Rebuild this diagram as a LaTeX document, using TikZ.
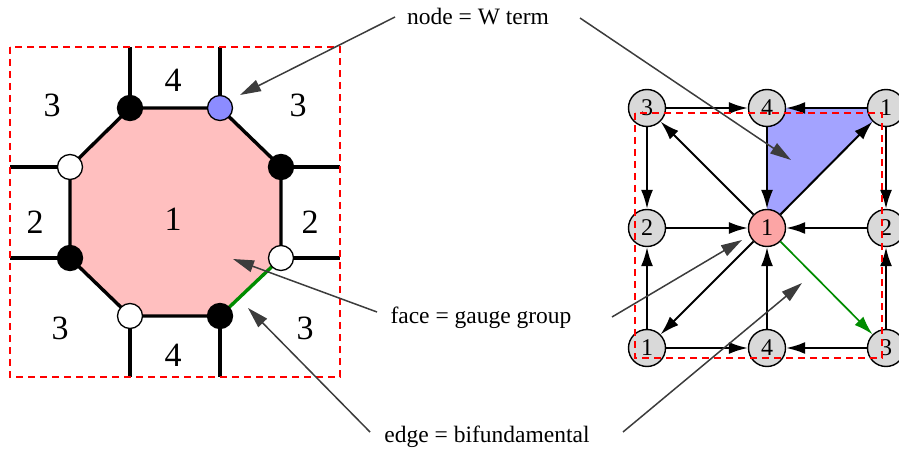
\documentclass[tikz,border=0pt]{standalone}
\usepackage{fontspec}
\setmainfont{Liberation Serif}
\usetikzlibrary{arrows.meta}
\definecolor{octpink}{HTML}{FFBFBF}
\definecolor{nodepink}{HTML}{FCA5A5}
\definecolor{wblue}{HTML}{8C8CFF}
\definecolor{triblue}{HTML}{A3A3FF}
\definecolor{qgray}{HTML}{D9D9D9}
\definecolor{anngray}{HTML}{3C3C3C}
\definecolor{edgegreen}{HTML}{008C00}
\tikzset{
  vblack/.style={circle,draw=black,fill=black,line width=1.3pt,minimum size=25pt,inner sep=0pt},
  vwhite/.style={circle,draw=black,fill=white,line width=1.3pt,minimum size=25pt,inner sep=0pt},
  vblue/.style={circle,draw=black,fill=wblue,line width=1.3pt,minimum size=25pt,inner sep=0pt},
  bigdigit/.style={font=\fontsize{34}{34}\selectfont,inner sep=0pt},
  quiv/.style={circle,draw=black,fill=qgray,line width=1.4pt,minimum size=37pt,inner sep=0pt,font=\fontsize{24}{24}\selectfont},
  quivc/.style={quiv,fill=nodepink},
  dimer/.style={line width=3.4pt,black},
  arr/.style={line width=2pt,black,-{Latex[length=19pt,width=12pt]}},
  garr/.style={line width=1.7pt,edgegreen,-{Latex[length=19pt,width=12pt]}},
  ann/.style={line width=1.5pt,anngray,-{Triangle[length=21pt,width=12pt]}},
  lbl/.style={font=\fontsize{23.5}{24}\selectfont,inner sep=0pt},
  redbox/.style={red,line width=1.5pt,dash pattern=on 7pt off 5pt}
}
\begin{document}
\begin{tikzpicture}[x=1pt,y=-1pt]
\useasboundingbox (0,0) rectangle (899,449);

% ---------- left panel: brane tiling ----------
\coordinate (pa) at (130,108);
\coordinate (pb) at (220,108);
\coordinate (pc) at (281,167);
\coordinate (pd) at (281,258);
\coordinate (pe) at (220,316);
\coordinate (pf) at (130,316);
\coordinate (pg) at (70,258);
\coordinate (ph) at (70,167);
\fill[octpink] (pa) -- (pb) -- (pc) -- (pd) -- (pe) -- (pf) -- (pg) -- (ph) -- cycle;

\coordinate (ta) at (130,47);
\coordinate (tb) at (220,47);
\coordinate (tc) at (340,167);
\coordinate (td) at (340,258);
\coordinate (te) at (220,377);
\coordinate (tf) at (130,377);
\coordinate (tg) at (10,258);
\coordinate (th) at (10,167);

\draw[dimer] (pa) -- (pb) -- (pc) -- (pd);
\draw[dimer] (pe) -- (pf) -- (pg) -- (ph) -- (pa);
\draw[line width=3.4pt,edgegreen] (pd) -- (pe);
\draw[dimer] (pa) -- (ta);
\draw[dimer] (pb) -- (tb);
\draw[dimer] (pc) -- (tc);
\draw[dimer] (pd) -- (td);
\draw[dimer] (pe) -- (te);
\draw[dimer] (pf) -- (tf);
\draw[dimer] (pg) -- (tg);
\draw[dimer] (ph) -- (th);

\node[vblack] (va) at (pa) {};
\node[vblue]  (vb) at (pb) {};
\node[vblack] (vc) at (pc) {};
\node[vwhite] (vd) at (pd) {};
\node[vblack] (ve) at (pe) {};
\node[vwhite] (vf) at (pf) {};
\node[vblack] (vg) at (pg) {};
\node[vwhite] (vh) at (ph) {};

\node[bigdigit] (f3a) at (52,105) {3};
\node[bigdigit] (f4a) at (173,80) {4};
\node[bigdigit] (f3b) at (298,105) {3};
\node[bigdigit] (f2a) at (35,222) {2};
\node[bigdigit] (f1)  at (173,219) {1};
\node[bigdigit] (f2b) at (310,222) {2};
\node[bigdigit] (f3c) at (60,328) {3};
\node[bigdigit] (f4b) at (173,355) {4};
\node[bigdigit] (f3d) at (305,328) {3};

\draw[redbox] (10,47) rectangle (340,377);

% ---------- right panel: quiver ----------
\coordinate (c4t) at (767,108);
\coordinate (c1tr) at (886,108);
\coordinate (c1c) at (767,228);
\fill[triblue] (c4t) -- (c1tr) -- (c1c) -- cycle;

\node[quiv] (q3tl) at (647,108) {3};
\node[quiv] (q4t)  at (767,108) {4};
\node[quiv] (q1tr) at (886,108) {1};
\node[quiv] (q2l)  at (647,228) {2};
\node[quivc] (q1c) at (767,228) {1};
\node[quiv] (q2r)  at (886,228) {2};
\node[quiv] (q1bl) at (647,348) {1};
\node[quiv] (q4b)  at (767,348) {4};
\node[quiv] (q3br) at (886,348) {3};

\draw[arr] (q3tl) -- (q4t);
\draw[arr] (q1tr) -- (q4t);
\draw[arr] (q4t) -- (q1c);
\draw[arr] (q1c) -- (q1tr);
\draw[arr] (q1c) -- (q3tl);
\draw[arr] (q3tl) -- (q2l);
\draw[arr] (q1tr) -- (q2r);
\draw[arr] (q2l) -- (q1c);
\draw[arr] (q2r) -- (q1c);
\draw[arr] (q1bl) -- (q2l);
\draw[arr] (q3br) -- (q2r);
\draw[arr] (q1c) -- (q1bl);
\draw[arr] (q4b) -- (q1c);
\draw[arr] (q1bl) -- (q4b);
\draw[arr] (q3br) -- (q4b);
\draw[garr] (q1c) -- (q3br);

\draw[redbox] (635,113) rectangle (882,358);

% ---------- annotations ----------
\node[lbl] (lnode) at (478,17) {node = W term};
\node[lbl] (lface) at (481,318) {face = gauge group};
\node[lbl] (ledge) at (487,437) {edge = bifundamental};

\coordinate (sn1) at (395,17);
\coordinate (en1) at (240,95);
\coordinate (sn2) at (580,18);
\coordinate (en2) at (791,160);
\coordinate (sf1) at (377,312);
\coordinate (ef1) at (233,259);
\coordinate (sf2) at (612,317);
\coordinate (ef2) at (742,240);
\coordinate (se1) at (370,432);
\coordinate (ee1) at (248,308);
\coordinate (se2) at (623,432);
\coordinate (ee2) at (802,283);

\draw[ann] (sn1) -- (en1);
\draw[ann] (sn2) -- (en2);
\draw[ann] (sf1) -- (ef1);
\draw[ann] (sf2) -- (ef2);
\draw[ann] (se1) -- (ee1);
\draw[ann] (se2) -- (ee2);
\end{tikzpicture}
\end{document}
